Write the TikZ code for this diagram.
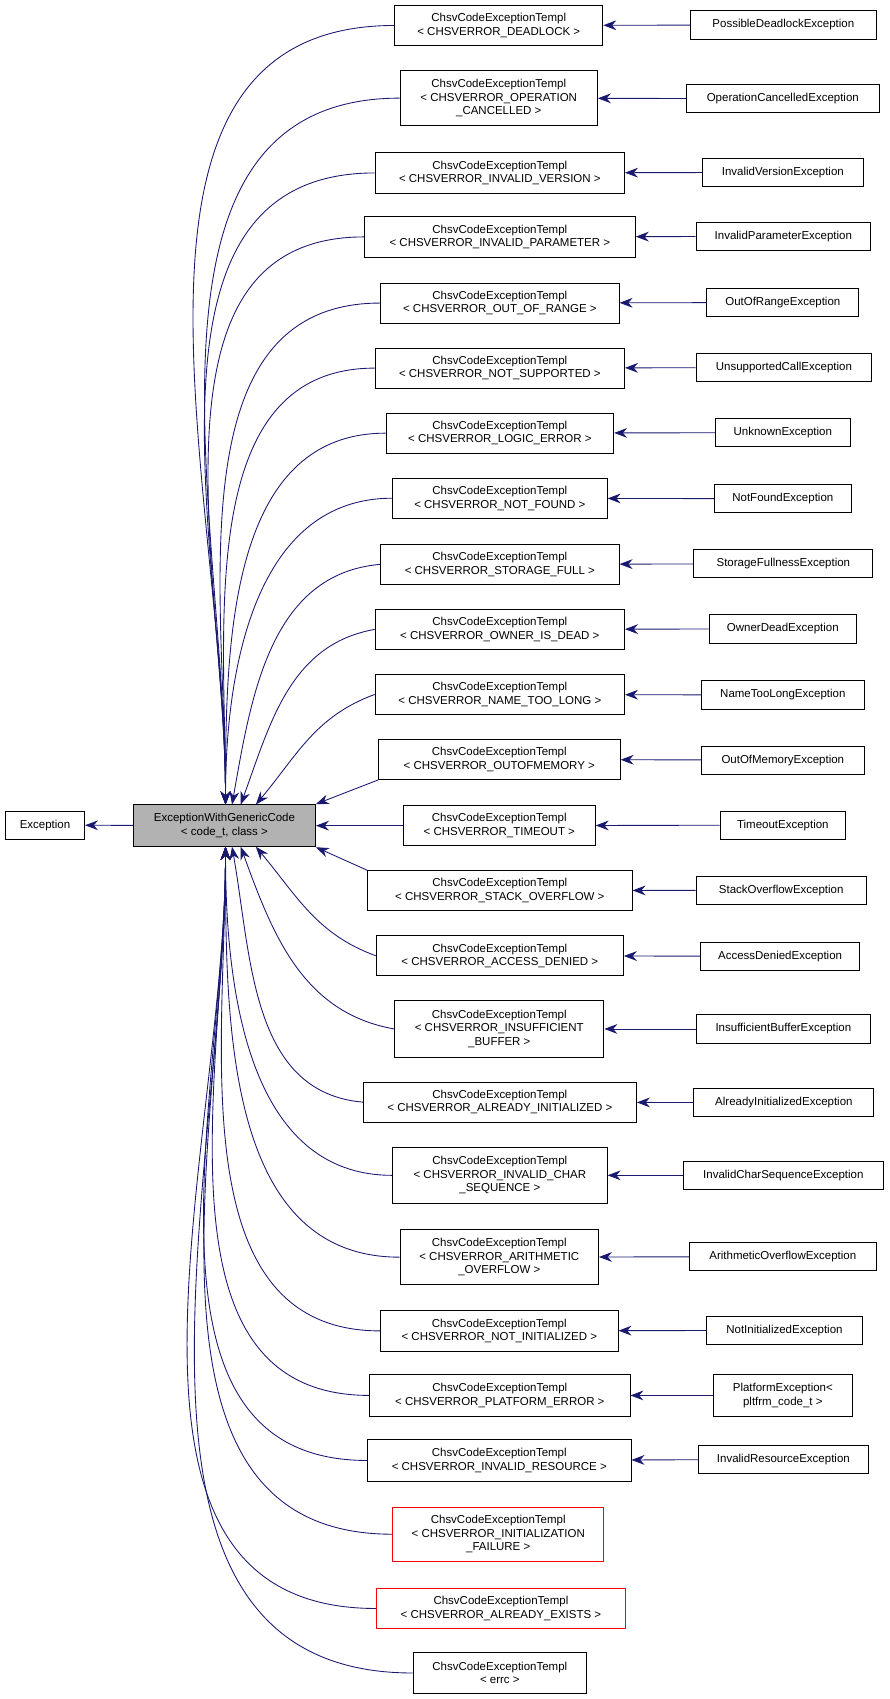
\documentclass[tikz,border=0pt]{standalone}
\usepackage{fontspec}
\setmainfont{Liberation Sans}
\usetikzlibrary{arrows.meta}
\definecolor{nv}{HTML}{191970}
\tikzset{
 box/.style={draw=black,line width=0.8pt,fill=white,inner sep=0pt,align=center,font=\fontsize{10.6}{12.5}\selectfont},
 arr/.style={draw=nv,line width=0.8pt,-{Stealth[length=12pt,width=9pt]}}
}
\newcommand\rowx[7]{%
 \node[box,draw=#7,minimum width={#3-#2},minimum height={#5-#4}] (#1) at ({(#2+#3)/2},{(#4+#5)/2}) {#6};}
\begin{document}
\begin{tikzpicture}[x=1pt,y=-1pt]
\useasboundingbox (0,0) rectangle (820,1567);
\rowx{EX}{5}{78}{748}{774}{Exception}{black}
\node[box,fill=black!30,minimum width=168,minimum height=39] (E) at (207,761.5) {ExceptionWithGenericCode\\< code\_t, class >};
\draw[arr] (E) -- (EX);
\rowx{L1}{364}{556}{5}{42}{ChsvCodeExceptionTempl\\< CHSVERROR\_DEADLOCK >}{black}
\rowx{R1}{637}{808}{10}{36}{PossibleDeadlockException}{black}
\rowx{L2}{369}{551}{65}{116}{ChsvCodeExceptionTempl\\< CHSVERROR\_OPERATION\\\_CANCELLED >}{black}
\rowx{R2}{633}{811}{78}{104}{OperationCancelledException}{black}
\rowx{L3}{346}{576}{141}{178}{ChsvCodeExceptionTempl\\< CHSVERROR\_INVALID\_VERSION >}{black}
\rowx{R3}{648}{796}{146}{172}{InvalidVersionException}{black}
\rowx{L4}{336}{586}{200}{237}{ChsvCodeExceptionTempl\\< CHSVERROR\_INVALID\_PARAMETER >}{black}
\rowx{R4}{642}{803}{205}{231}{InvalidParameterException}{black}
\rowx{L5}{351}{571}{261}{298}{ChsvCodeExceptionTempl\\< CHSVERROR\_OUT\_OF\_RANGE >}{black}
\rowx{R5}{652}{792}{266}{292}{OutOfRangeException}{black}
\rowx{L6}{346}{576}{321}{358}{ChsvCodeExceptionTempl\\< CHSVERROR\_NOT\_SUPPORTED >}{black}
\rowx{R6}{642}{804}{326}{352}{UnsupportedCallException}{black}
\rowx{L7}{356}{566}{381}{418}{ChsvCodeExceptionTempl\\< CHSVERROR\_LOGIC\_ERROR >}{black}
\rowx{R7}{660}{784}{386}{412}{UnknownException}{black}
\rowx{L8}{362}{560}{441}{478}{ChsvCodeExceptionTempl\\< CHSVERROR\_NOT\_FOUND >}{black}
\rowx{R8}{659}{785}{447}{473}{NotFoundException}{black}
\rowx{L9}{351}{571}{502}{539}{ChsvCodeExceptionTempl\\< CHSVERROR\_STORAGE\_FULL >}{black}
\rowx{R9}{640}{805}{507}{533}{StorageFullnessException}{black}
\rowx{L10}{346}{576}{562}{599}{ChsvCodeExceptionTempl\\< CHSVERROR\_OWNER\_IS\_DEAD >}{black}
\rowx{R10}{654}{790}{567}{593}{OwnerDeadException}{black}
\rowx{L11}{346}{576}{622}{659}{ChsvCodeExceptionTempl\\< CHSVERROR\_NAME\_TOO\_LONG >}{black}
\rowx{R11}{647}{797}{628}{654}{NameTooLongException}{black}
\rowx{L12}{349}{572}{682}{719}{ChsvCodeExceptionTempl\\< CHSVERROR\_OUTOFMEMORY >}{black}
\rowx{R12}{647}{797}{688}{714}{OutOfMemoryException}{black}
\rowx{L13}{372}{549}{743}{780}{ChsvCodeExceptionTempl\\< CHSVERROR\_TIMEOUT >}{black}
\rowx{R13}{664}{780}{748}{774}{TimeoutException}{black}
\rowx{L14}{339}{583}{803}{840}{ChsvCodeExceptionTempl\\< CHSVERROR\_STACK\_OVERFLOW >}{black}
\rowx{R14}{642}{799}{808}{834}{StackOverflowException}{black}
\rowx{L15}{347}{575}{863}{900}{ChsvCodeExceptionTempl\\< CHSVERROR\_ACCESS\_DENIED >}{black}
\rowx{R15}{646}{793}{869}{895}{AccessDeniedException}{black}
\rowx{L16}{364}{557}{923}{975}{ChsvCodeExceptionTempl\\< CHSVERROR\_INSUFFICIENT\\\_BUFFER >}{black}
\rowx{R16}{642}{803}{936}{962}{InsufficientBufferException}{black}
\rowx{L17}{335}{587}{998}{1035}{ChsvCodeExceptionTempl\\< CHSVERROR\_ALREADY\_INITIALIZED >}{black}
\rowx{R17}{640}{806}{1004}{1030}{AlreadyInitializedException}{black}
\rowx{L18}{362}{560}{1058}{1110}{ChsvCodeExceptionTempl\\< CHSVERROR\_INVALID\_CHAR\\\_SEQUENCE >}{black}
\rowx{R18}{630}{815}{1071}{1097}{InvalidCharSequenceException}{black}
\rowx{L19}{369}{552}{1134}{1185}{ChsvCodeExceptionTempl\\< CHSVERROR\_ARITHMETIC\\\_OVERFLOW >}{black}
\rowx{R19}{636}{808}{1146}{1172}{ArithmeticOverflowException}{black}
\rowx{L20}{351}{570}{1209}{1246}{ChsvCodeExceptionTempl\\< CHSVERROR\_NOT\_INITIALIZED >}{black}
\rowx{R20}{652}{795}{1214}{1240}{NotInitializedException}{black}
\rowx{L21}{341}{581}{1268}{1306}{ChsvCodeExceptionTempl\\< CHSVERROR\_PLATFORM\_ERROR >}{black}
\rowx{R21}{658}{786}{1268}{1306}{PlatformException<\\ pltfrm\_code\_t >}{black}
\rowx{L22}{339}{582}{1328}{1366}{ChsvCodeExceptionTempl\\< CHSVERROR\_INVALID\_RESOURCE >}{black}
\rowx{R22}{644}{801}{1333}{1359}{InvalidResourceException}{black}
\rowx{L23}{362}{557}{1390}{1440}{ChsvCodeExceptionTempl\\< CHSVERROR\_INITIALIZATION\\\_FAILURE >}{red}
\rowx{L24}{347}{577}{1465}{1502}{ChsvCodeExceptionTempl\\< CHSVERROR\_ALREADY\_EXISTS >}{red}
\rowx{L25}{381}{541}{1524}{1562}{ChsvCodeExceptionTempl\\< errc >}{black}
\foreach \i in {1,...,22}{\draw[arr] (R\i) -- (L\i);}
\coordinate (T0) at (208,742);
\coordinate (T1) at (214,742);
\coordinate (T2) at (222,742);
\coordinate (T3) at (236,742);
\coordinate (B0) at (208,781);
\coordinate (B1) at (214,781);
\coordinate (B2) at (222,781);
\coordinate (B3) at (236,781);
\foreach \i in {1,...,8}{\draw[arr] (L\i.west) to[out=180,in=90] (T0);}
\draw[arr] (L9.west) to[out=185,in=80] (T1);
\draw[arr] (L10.west) to[out=190,in=70] (T2);
\draw[arr] (L11.west) to[out=200,in=50] (T3);
\draw[arr] (L12.south west) -- (E.north east);
\draw[arr] (L13) -- (E);
\draw[arr] (L14.north west) -- (E.south east);
\draw[arr] (L15.west) to[out=160,in=-50] (B3);
\draw[arr] (L16.west) to[out=170,in=-70] (B2);
\draw[arr] (L17.west) to[out=175,in=-80] (B1);
\foreach \i in {18,...,25}{\draw[arr] (L\i.west) to[out=180,in=-90] (B0);}
\end{tikzpicture}
\end{document}
